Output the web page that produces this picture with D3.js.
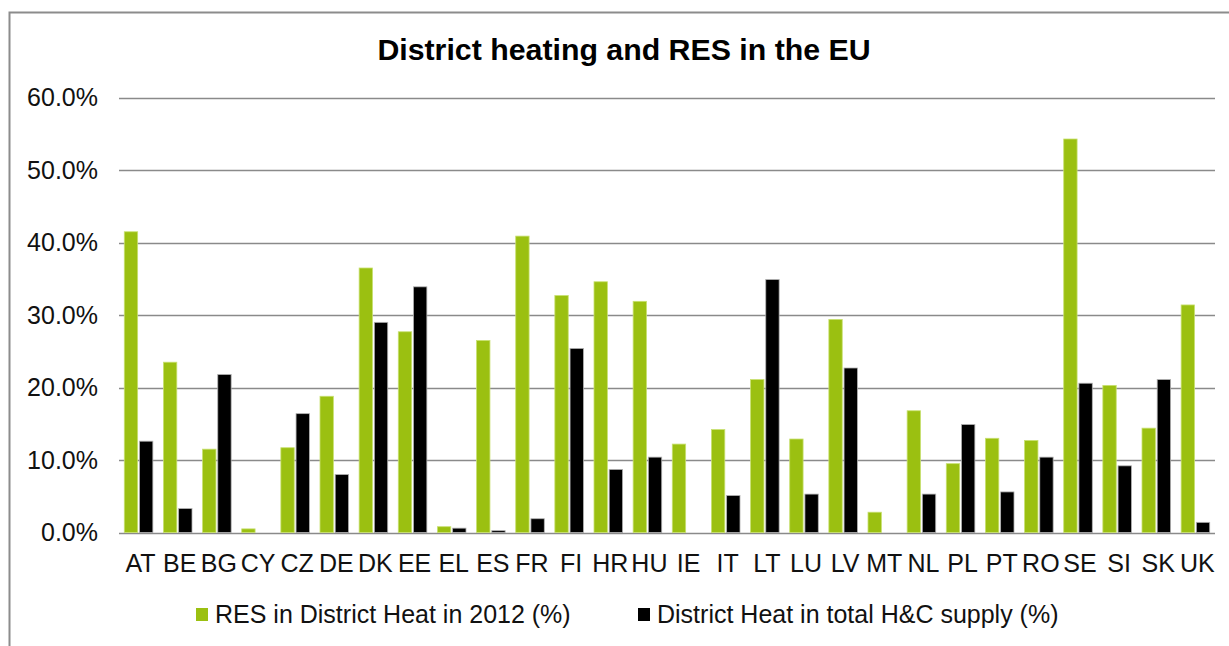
<!DOCTYPE html>
<html>
<head>
<meta charset="utf-8">
<script src="https://cdn.jsdelivr.net/npm/d3@7.9.0/dist/d3.min.js"></script>
<style>
  html, body { margin: 0; padding: 0; background: #fff; }
  svg { display: block; font-family: Arial, "Liberation Sans", sans-serif; }
</style>
</head>
<body>
<svg id="chart" width="1229" height="646"></svg>
<script>
// values (shares, 0..1)
const countries = ['AT', 'BE', 'BG', 'CY', 'CZ', 'DE', 'DK', 'EE', 'EL', 'ES', 'FR', 'FI', 'HR', 'HU',
    'IE', 'IT', 'LT', 'LU', 'LV', 'MT', 'NL', 'PL', 'PT', 'RO', 'SE', 'SI', 'SK', 'UK'];
const resInDH = [0.415, 0.235, 0.115, 0.005, 0.117, 0.188, 0.365, 0.277, 0.008, 0.265, 0.409, 0.327, 0.346, 0.319,
    0.122, 0.142, 0.211, 0.129, 0.294, 0.028, 0.168, 0.095, 0.130, 0.127, 0.543, 0.203, 0.144, 0.314];
const dhInHC = [0.126, 0.033, 0.218, 0, 0.164, 0.080, 0.290, 0.339, 0.006, 0.0025, 0.019, 0.254, 0.087, 0.104,
    0, 0.051, 0.349, 0.053, 0.227, 0, 0.053, 0.149, 0.056, 0.104, 0.206, 0.092, 0.211, 0.014];
const yTicks = [0, 0.1, 0.2, 0.3, 0.4, 0.5, 0.6];
const seriesNames = ['RES in District Heat in 2012 (%)', 'District Heat in total H&C supply (%)'];
const seriesColors = ['#9bc011', '#000000'];

const svg = d3.select('#chart');

// chart frame
svg.append('rect')
    .attr('x', 9.5).attr('y', 12.5)
    .attr('width', 1260).attr('height', 660)
    .attr('fill', 'none').attr('stroke', '#8c8c8c').attr('stroke-width', 2);

svg.append('text')
    .attr('x', 624).attr('y', 60)
    .attr('text-anchor', 'middle')
    .attr('font-size', 30.3).attr('font-weight', 'bold')
    .text('District heating and RES in the EU');

const plot = { left: 119, right: 1215, top: 97.7, bottom: 532.5 };

const x = d3.scaleBand()
    .domain(countries)
    .range([plot.left, plot.right])
    .paddingInner(0.27)
    .paddingOuter(0.135);

const x1 = d3.scaleBand()
    .domain([0, 1])
    .range([0, x.bandwidth()])
    .paddingInner(0.12);

const y = d3.scaleLinear()
    .domain([0, 0.6])
    .range([plot.bottom, plot.top]);

// gridlines
svg.append('g')
    .selectAll('line')
    .data(yTicks)
    .join('line')
    .attr('x1', plot.left).attr('x2', plot.right)
    .attr('y1', (d) => Math.round(y(d)) + 0.5)
    .attr('y2', (d) => Math.round(y(d)) + 0.5)
    .attr('stroke', '#8a8a8a').attr('stroke-width', 1.5);

// y tick labels
svg.append('g')
    .selectAll('text')
    .data(yTicks)
    .join('text')
    .attr('x', 98)
    .attr('y', (d) => y(d))
    .attr('dy', '0.35em')
    .attr('text-anchor', 'end')
    .attr('font-size', 25)
    .attr('fill', '#111')
    .text((d) => d3.format('.1%')(d));

// bars
const series = [resInDH, dhInHC];
series.forEach((values, si) => {
    svg.append('g')
        .selectAll('rect')
        .data(values)
        .join('rect')
        .attr('x', (d, i) => x(countries[i]) + x1(si))
        .attr('y', (d) => y(d))
        .attr('width', x1.bandwidth())
        .attr('height', (d) => y(0) - y(d))
        .attr('fill', seriesColors[si])
        .attr('stroke', si === 1 ? '#b0b0b0' : '#c8e070')
        .attr('stroke-width', 0.8);
});

// x labels
svg.append('g')
    .selectAll('text')
    .data(countries)
    .join('text')
    .attr('x', (d) => x(d) + x.bandwidth() / 2 + 2)
    .attr('y', 572)
    .attr('text-anchor', 'middle')
    .attr('font-size', 25)
    .attr('fill', '#111')
    .text((d) => d);

// legend
const legendX = [196, 638];
const legend = svg.append('g');
seriesNames.forEach((name, i) => {
    legend.append('rect')
        .attr('x', legendX[i]).attr('y', 608)
        .attr('width', 12).attr('height', 13)
        .attr('fill', seriesColors[i]);
    legend.append('text')
        .attr('x', legendX[i] + 19).attr('y', 623)
        .attr('font-size', 25)
        .attr('fill', '#111')
        .text(name);
});
</script>
</body>
</html>
